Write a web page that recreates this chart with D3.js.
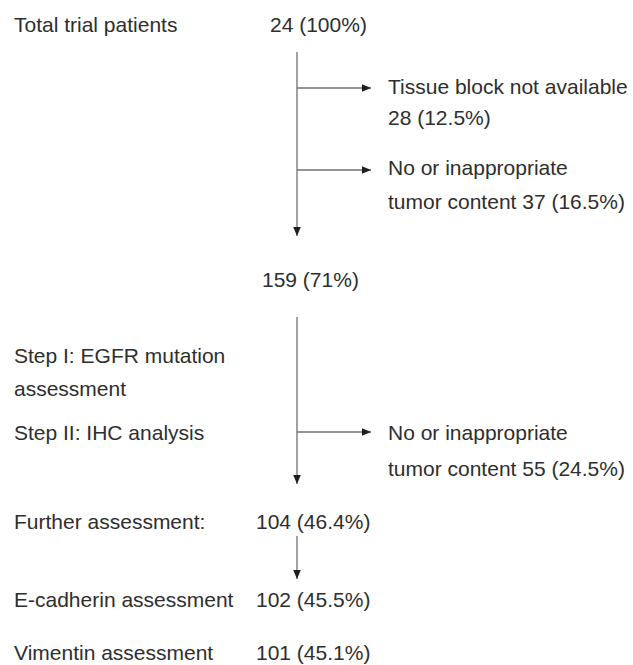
<!DOCTYPE html>
<html><head><meta charset="utf-8">
<script src="https://cdn.jsdelivr.net/npm/d3@7"></script>
<style>body{margin:0;background:#fff}</style>
</head><body>
<svg id="c" width="633" height="665"></svg>
<script>
// data
const stageLabels = ["Total trial patients", "", "Further assessment:", "E-cadherin assessment", "Vimentin assessment"];
const stageCounts = [24, 159, 104, 102, 101];
const stagePcts = ["100%", "71%", "46.4%", "45.5%", "45.1%"];
const exclusionLines = [["Tissue block not available", "28 (12.5%)"], ["No or inappropriate", "tumor content 37 (16.5%)"], ["No or inappropriate", "tumor content 55 (24.5%)"]];
const stepLabels = [["Step I: EGFR mutation", "assessment"], ["Step II: IHC analysis"]];

// layout
const svg = d3.select("#c");
const ink = "#2e2e2e", lineCol = "#707070";
const fs = 21;
const xCol = 297, xLeft = 14, xRight = 388, xBranchEnd = 371;
const stageY = [25, 280, 522, 600, 653];
const stageX = [270, 262, 256, 256, 256];
const exclY = [[87, 118], [168, 202], [433, 469]];
const branchY = [88, 170, 432];
const stepY = [[356, 389], [433]];

svg.append("defs").append("marker").attr("id","ah").attr("viewBox","0 0 10 10")
  .attr("refX",10).attr("refY",5).attr("markerWidth",9).attr("markerHeight",9)
  .attr("markerUnits","userSpaceOnUse").attr("orient","auto")
  .append("path").attr("d","M0,0.8L10,5L0,9.2Z").attr("fill","#1e1e1e");

function txt(x,y,s){ svg.append("text").attr("x",x).attr("y",y).attr("dy","0.35em")
  .attr("font-family","'Liberation Sans', Arial, sans-serif").attr("font-size",fs)
  .attr("fill",ink).text(s); }

stageLabels.forEach((l,i)=>{ if(l) txt(xLeft, stageY[i], l);
  txt(stageX[i], stageY[i], `${stageCounts[i]} (${stagePcts[i]})`); });
exclusionLines.forEach((ls,i)=>ls.forEach((l,j)=>txt(xRight, exclY[i][j], l)));
stepLabels.forEach((ls,i)=>ls.forEach((l,j)=>txt(xLeft, stepY[i][j], l)));

const vlines = [[52,236],[317,484],[536,579]];
vlines.forEach(v=>svg.append("line").attr("x1",xCol).attr("x2",xCol).attr("y1",v[0]).attr("y2",v[1])
  .attr("stroke",lineCol).attr("stroke-width",1.3).attr("marker-end","url(#ah)"));
branchY.forEach(y=>svg.append("line").attr("x1",xCol).attr("x2",xBranchEnd).attr("y1",y).attr("y2",y)
  .attr("stroke",lineCol).attr("stroke-width",1.3).attr("marker-end","url(#ah)"));
</script>
</body></html>
